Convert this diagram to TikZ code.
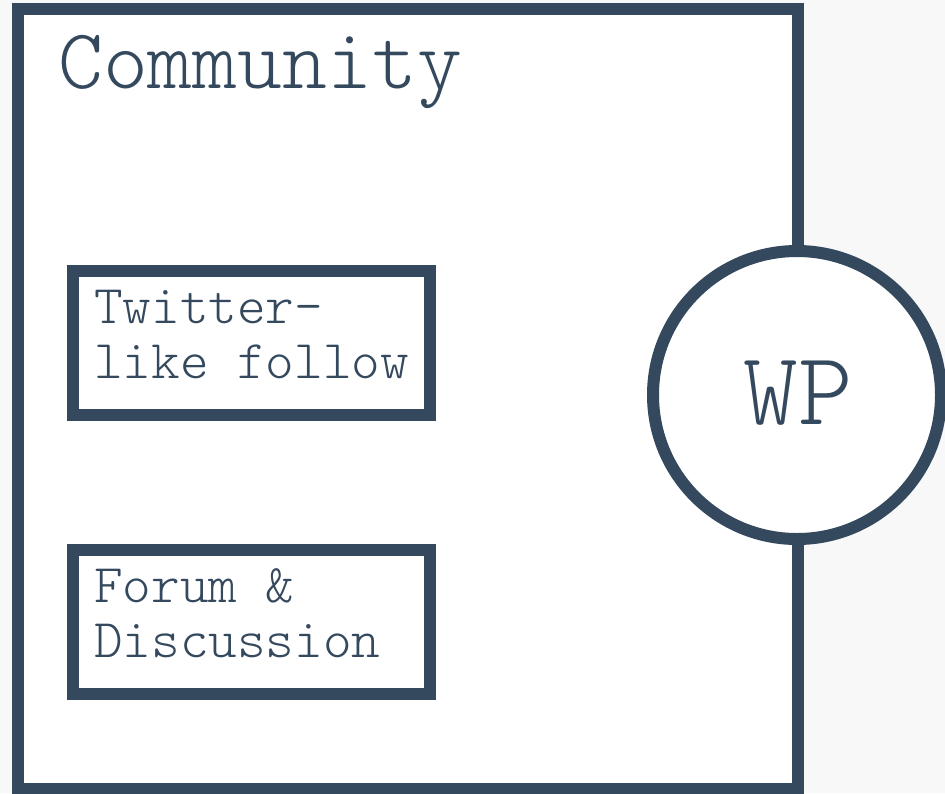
\documentclass[tikz,border=0pt]{standalone}
\usetikzlibrary{shapes.geometric}
\definecolor{slate}{RGB}{52,73,94}
\definecolor{pagebg}{RGB}{248,248,248}
\begin{document}
\begin{tikzpicture}[x=1pt,y=-1pt,
  frame/.style={draw=slate,line width=12pt,fill=white,inner sep=0pt,rectangle},
  lbl/.style={text=slate,inner sep=0pt},
  boxlbl/.style={lbl,align=left,anchor=base west,font=\ttfamily\fontseries{l}\fontsize{54.5}{55}\selectfont}]
\fill[pagebg] (0,0) rectangle (945,793);
\useasboundingbox (0,0) rectangle (945,793);
\node[frame,minimum width=780pt,minimum height=780pt] (community) at (408,399) {};
\node[lbl,anchor=base west,font=\ttfamily\fontseries{l}\fontsize{85.5}{90}\selectfont] (title) at (58,88) {Community};
\node[frame,minimum width=357pt,minimum height=144pt] (follow) at (251.5,343) {};
\node[frame,minimum width=357pt,minimum height=144pt] (forum) at (251.5,622) {};
\node[boxlbl] (followtxt) at (94,378) {Twitter-\\like follow};
\node[boxlbl] (forumtxt) at (94,657) {Forum \&\\Discussion};
\node[draw=slate,line width=12pt,fill=white,circle,minimum size=288pt,inner sep=0pt] (wp) at (797,395) {};
\node[lbl,anchor=base,font=\ttfamily\fontseries{l}\fontsize{104}{110}\selectfont] (wptxt) at (798,424) {WP};
\end{tikzpicture}
\end{document}
